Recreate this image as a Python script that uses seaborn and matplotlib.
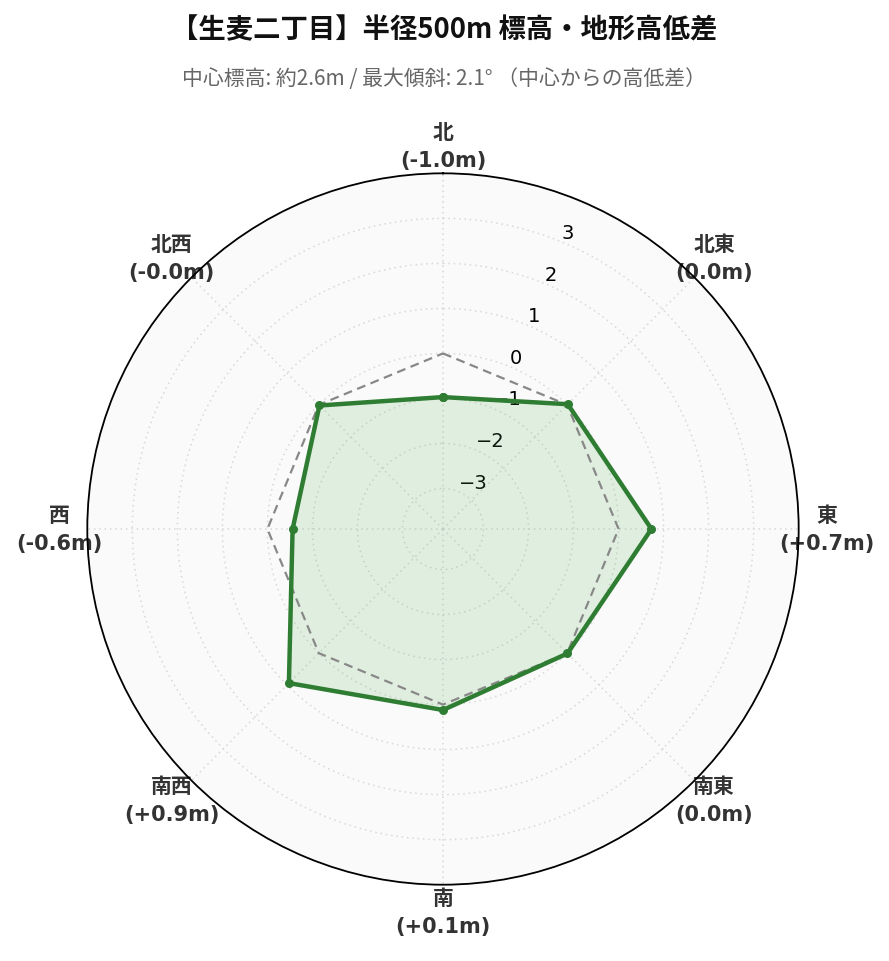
import numpy as np
import pandas as pd
import matplotlib
matplotlib.use("Agg")
import matplotlib.pyplot as plt
import seaborn as sns

directions = ["北", "北東", "東", "南東", "南", "南西", "西", "北西"]
values = [-0.97, 0.02, 0.73, 0.01, 0.12, 0.94, -0.56, -0.02]
value_labels = ["-1.0m", "0.0m", "+0.7m", "0.0m", "+0.1m", "+0.9m", "-0.6m", "-0.0m"]
reference = [0, 0, 0, 0, 0, 0, 0, 0]
radial_ticks = [-3, -2, -1, 0, 1, 2, 3]
title = "【生麦二丁目】半径500m 標高・地形高低差"
subtitle = "中心標高: 約2.6m / 最大傾斜: 2.1° （中心からの高低差）"

sns.set_theme(style="white")
plt.rcParams['font.family'] = ['DejaVu Sans', 'Noto Sans CJK JP']
plt.rcParams['axes.unicode_minus'] = True

n = len(directions)
angles = np.arange(n) * 2 * np.pi / n
ang_closed = np.append(angles, 2 * np.pi)
val_closed = np.append(values, values[0])
ref_closed = np.append(reference, reference[0])
df = pd.DataFrame({"theta": ang_closed, "value": val_closed, "ref": ref_closed})

fig = plt.figure(figsize=(8.89, 9.62), dpi=100)
ax = fig.add_axes([0.0982, 0.0793, 0.8002, 0.7395], projection="polar")
ax.set_theta_zero_location("N")
ax.set_theta_direction(-1)
ax.set_facecolor("#fafafa")

green = "#2e7d32"
polys = ax.fill(df["theta"], df["value"], facecolor="#4caf50", alpha=0.15, linewidth=0, zorder=2)
for p in polys:
    p.get_path()._interpolation_steps = 1
sns.lineplot(data=df, x="theta", y="ref", ax=ax, color="#888888", linewidth=1.6,
             linestyle=(0, (4, 2.5)), sort=False, estimator=None, zorder=3)
sns.lineplot(data=df, x="theta", y="value", ax=ax, color=green, linewidth=3.2,
             marker="o", markersize=6.5, markeredgewidth=0, sort=False, estimator=None, zorder=4)

ax.set_ylim(-3.9, 4.0)
ax.set_yticks(radial_ticks)
ax.set_yticklabels([f"{t}".replace("-", "\u2212") for t in radial_ticks], fontsize=14, color="black")
ax.set_rlabel_position(22.5)

ax.set_xticks(angles)
ax.set_xticklabels([f"{d}\n({v})" for d, v in zip(directions, value_labels)],
                   fontsize=15, fontweight="bold", color="#333333", linespacing=1.5)
ax.tick_params(axis="x", pad=7)

ax.grid(True, color="#d8d8d8", linestyle=(0, (1, 2.5)), linewidth=1.1)
ax.spines["polar"].set_color("black")
ax.spines["polar"].set_linewidth(1.3)
ax.set_xlabel("")
ax.set_ylabel("")

fig.text(0.5, 0.969, title, ha="center", va="center", fontsize=19.7, fontweight="bold",
         color="#111111", family=['Noto Sans CJK JP', 'DejaVu Sans'])
fig.text(0.5, 0.918, subtitle, ha="center", va="center", fontsize=15,
         color="#666666", family=['Noto Sans CJK JP', 'DejaVu Sans'])

fig.savefig("out.png", dpi=100)
